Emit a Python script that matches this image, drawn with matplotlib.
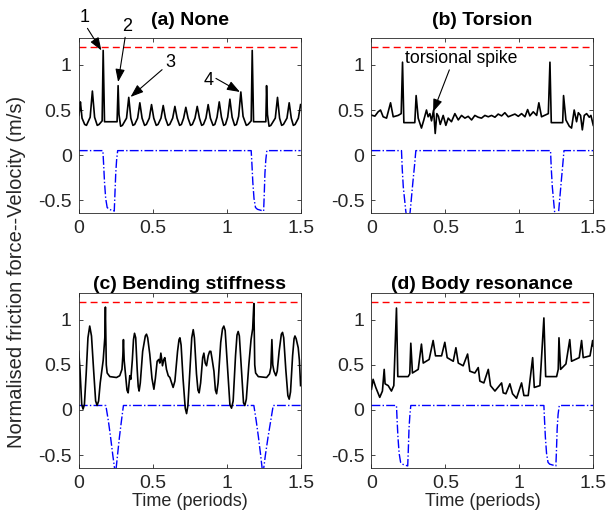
import numpy as np
import matplotlib.pyplot as plt

plt.rcParams['font.family'] = ['Liberation Sans', 'DejaVu Sans']

# friction force traces: (time in periods, normalised force)
force_a = [(0, 0.44), (0.006, 0.5), (0.011, 0.59), (0.022, 0.41), (0.04, 0.34), (0.052, 0.33),
           (0.077, 0.42), (0.092, 0.71), (0.107, 0.42), (0.125, 0.33), (0.137, 0.34), (0.158, 0.38),
           (0.165, 1.16), (0.174, 0.37), (0.259, 0.37), (0.266, 0.77), (0.272, 0.45), (0.283, 0.32),
           (0.295, 0.33), (0.323, 0.41), (0.338, 0.64), (0.352, 0.41), (0.366, 0.33), (0.378, 0.34),
           (0.398, 0.41), (0.413, 0.58), (0.428, 0.41), (0.445, 0.33), (0.457, 0.34), (0.477, 0.41),
           (0.492, 0.56), (0.507, 0.41), (0.524, 0.33), (0.536, 0.34), (0.556, 0.41), (0.571, 0.55),
           (0.586, 0.41), (0.603, 0.33), (0.615, 0.34), (0.635, 0.41), (0.65, 0.54), (0.665, 0.41),
           (0.682, 0.33), (0.694, 0.34), (0.709, 0.41), (0.724, 0.53), (0.739, 0.41), (0.756, 0.33),
           (0.768, 0.34), (0.786, 0.41), (0.801, 0.54), (0.816, 0.41), (0.831, 0.33), (0.843, 0.34),
           (0.86, 0.41), (0.875, 0.56), (0.89, 0.41), (0.908, 0.33), (0.92, 0.34), (0.935, 0.42),
           (0.95, 0.59), (0.965, 0.42), (0.98, 0.33), (0.992, 0.34), (1.007, 0.42), (1.022, 0.62),
           (1.037, 0.42), (1.054, 0.33), (1.066, 0.34), (1.081, 0.43), (1.096, 0.70), (1.111, 0.43),
           (1.133, 0.33), (1.145, 0.34), (1.166, 0.38), (1.173, 1.16), (1.182, 0.37), (1.265, 0.37),
           (1.27, 0.77), (1.276, 0.45), (1.287, 0.32), (1.299, 0.33), (1.329, 0.41), (1.344, 0.64),
           (1.358, 0.41), (1.372, 0.33), (1.384, 0.34), (1.408, 0.41), (1.423, 0.58), (1.437, 0.41),
           (1.451, 0.33), (1.463, 0.34), (1.485, 0.41), (1.5, 0.56)]

force_b = [(0, 0.443), (0.023, 0.432), (0.045, 0.48), (0.061, 0.50), (0.079, 0.425), (0.102, 0.41),
           (0.129, 0.58), (0.147, 0.425), (0.18, 0.44), (0.201, 0.46), (0.21, 1.03), (0.219, 0.36),
           (0.293, 0.36), (0.302, 0.66), (0.316, 0.41), (0.338, 0.30), (0.354, 0.39), (0.372, 0.50),
           (0.383, 0.425), (0.395, 0.46), (0.406, 0.38), (0.42, 0.50), (0.431, 0.24), (0.442, 0.46),
           (0.453, 0.43), (0.465, 0.34), (0.485, 0.44), (0.503, 0.33), (0.519, 0.41), (0.541, 0.37),
           (0.564, 0.46), (0.587, 0.39), (0.609, 0.44), (0.632, 0.41), (0.654, 0.43), (0.677, 0.39),
           (0.699, 0.44), (0.722, 0.42), (0.744, 0.41), (0.767, 0.44), (0.79, 0.425), (0.812, 0.44),
           (0.835, 0.42), (0.857, 0.455), (0.88, 0.435), (0.902, 0.47), (0.925, 0.425), (0.947, 0.44),
           (0.97, 0.455), (0.993, 0.43), (1.015, 0.46), (1.038, 0.425), (1.056, 0.505), (1.071, 0.435),
           (1.094, 0.48), (1.117, 0.44), (1.132, 0.58), (1.15, 0.425), (1.196, 0.46), (1.207, 1.03),
           (1.216, 0.36), (1.293, 0.36), (1.299, 0.66), (1.315, 0.39), (1.338, 0.32), (1.353, 0.30),
           (1.371, 0.50), (1.387, 0.37), (1.399, 0.47), (1.414, 0.44), (1.426, 0.28), (1.439, 0.44),
           (1.455, 0.46), (1.473, 0.42), (1.484, 0.44), (1.5, 0.33)]

force_c = [(0, 0.65), (0.008, 0.45), (0.02, 0.06), (0.029, 0.01), (0.038, 0.06), (0.05, 0.4),
           (0.062, 0.80), (0.074, 0.93), (0.086, 0.82), (0.1, 0.45), (0.114, 0.1), (0.124, 0.05),
           (0.134, 0.1), (0.145, 0.3), (0.165, 0.55), (0.176, 0.8), (0.18, 1.14), (0.186, 0.5),
           (0.192, 0.41), (0.21, 0.37), (0.255, 0.36), (0.277, 0.38), (0.292, 0.45), (0.298, 0.6),
           (0.302, 0.78), (0.307, 0.55), (0.318, 0.36), (0.326, 0.22), (0.334, 0.19), (0.34, 0.3),
           (0.345, 0.38), (0.352, 0.34), (0.362, 0.55), (0.37, 0.78), (0.377, 0.85), (0.385, 0.8),
           (0.395, 0.45), (0.402, 0.26), (0.408, 0.21), (0.416, 0.3), (0.432, 0.65), (0.45, 0.82),
           (0.458, 0.84), (0.466, 0.8), (0.48, 0.62), (0.495, 0.35), (0.508, 0.23), (0.518, 0.35),
           (0.53, 0.54), (0.541, 0.56), (0.548, 0.52), (0.555, 0.63), (0.562, 0.55), (0.566, 0.49),
           (0.575, 0.56), (0.582, 0.58), (0.593, 0.45), (0.605, 0.38), (0.616, 0.36), (0.628, 0.3),
           (0.638, 0.25), (0.65, 0.32), (0.668, 0.65), (0.678, 0.78), (0.684, 0.80), (0.692, 0.72),
           (0.705, 0.35), (0.72, 0.02), (0.729, -0.04), (0.738, 0.05), (0.75, 0.4), (0.764, 0.8),
           (0.774, 0.89), (0.782, 0.8), (0.796, 0.4), (0.806, 0.22), (0.814, 0.19), (0.824, 0.3),
           (0.838, 0.58), (0.846, 0.63), (0.855, 0.52), (0.864, 0.49), (0.875, 0.6), (0.885, 0.65),
           (0.893, 0.65), (0.903, 0.55), (0.914, 0.43), (0.924, 0.22), (0.932, 0.18), (0.942, 0.3),
           (0.96, 0.75), (0.972, 0.9), (0.981, 0.93), (0.99, 0.88), (1.005, 0.5), (1.022, 0.06),
           (1.033, 0.02), (1.044, 0.1), (1.06, 0.6), (1.07, 0.83), (1.078, 0.87), (1.086, 0.82),
           (1.1, 0.45), (1.114, 0.08), (1.123, 0.05), (1.133, 0.12), (1.15, 0.5), (1.165, 0.78),
           (1.176, 0.9), (1.184, 1.18), (1.19, 0.5), (1.196, 0.41), (1.214, 0.37), (1.27, 0.36),
           (1.29, 0.40), (1.299, 0.47), (1.306, 0.78), (1.312, 0.5), (1.32, 0.43), (1.333, 0.38),
           (1.342, 0.43), (1.355, 0.65), (1.37, 0.84), (1.378, 0.86), (1.386, 0.8), (1.4, 0.45),
           (1.414, 0.16), (1.423, 0.12), (1.432, 0.2), (1.446, 0.6), (1.456, 0.79), (1.462, 0.82),
           (1.47, 0.79), (1.484, 0.69), (1.492, 0.55), (1.5, 0.27)]

force_d = [(0, 0.23), (0.011, 0.34), (0.029, 0.25), (0.056, 0.14), (0.074, 0.21), (0.086, 0.45),
           (0.092, 0.29), (0.113, 0.27), (0.135, 0.21), (0.151, 0.27), (0.169, 1.13), (0.178, 0.37),
           (0.248, 0.37), (0.259, 0.40), (0.266, 0.74), (0.277, 0.41), (0.316, 0.45), (0.338, 0.73),
           (0.35, 0.52), (0.39, 0.56), (0.417, 0.77), (0.433, 0.60), (0.474, 0.60), (0.496, 0.75),
           (0.512, 0.58), (0.553, 0.54), (0.571, 0.69), (0.587, 0.52), (0.62, 0.49), (0.65, 0.62),
           (0.665, 0.43), (0.699, 0.41), (0.722, 0.47), (0.733, 0.32), (0.76, 0.30), (0.79, 0.45),
           (0.805, 0.27), (0.835, 0.21), (0.88, 0.30), (0.891, 0.19), (0.909, 0.18), (0.936, 0.29),
           (0.954, 0.18), (0.981, 0.13), (1.015, 0.30), (1.031, 0.16), (1.06, 0.16), (1.09, 0.58),
           (1.101, 0.25), (1.139, 0.27), (1.166, 1.02), (1.178, 0.37), (1.252, 0.37), (1.263, 0.45),
           (1.268, 0.80), (1.279, 0.45), (1.315, 0.51), (1.341, 0.78), (1.353, 0.54), (1.405, 0.58),
           (1.421, 0.77), (1.432, 0.58), (1.478, 0.60), (1.496, 0.77), (1.5, 0.71)]

# bow velocity traces: (time in periods, velocity)
vel_a = [(0, 0.05), (0.163, 0.05), (0.168, -0.1), (0.174, -0.3), (0.182, -0.48), (0.192, -0.58),
         (0.205, -0.6), (0.24, -0.62), (0.244, -0.45), (0.25, -0.2), (0.256, -0.05), (0.263, 0.05),
         (1.166, 0.05), (1.171, -0.1), (1.177, -0.3), (1.185, -0.48), (1.195, -0.58), (1.208, -0.6),
         (1.25, -0.62), (1.254, -0.45), (1.259, -0.2), (1.265, -0.05), (1.272, 0.05), (1.5, 0.05)]

vel_b = [(0, 0.05), (0.203, 0.05), (0.208, -0.15), (0.215, -0.35), (0.232, -0.62), (0.248, -0.8),
         (0.262, -0.62), (0.28, -0.3), (0.292, -0.1), (0.30, 0.05), (1.211, 0.05), (1.216, -0.15),
         (1.223, -0.35), (1.238, -0.62), (1.252, -0.8), (1.266, -0.62), (1.283, -0.3), (1.294, -0.1),
         (1.302, 0.05), (1.5, 0.05)]

vel_c = [(0, 0.05), (0.183, 0.05), (0.2, -0.12), (0.215, -0.3), (0.23, -0.5), (0.248, -0.72),
         (0.262, -0.5), (0.275, -0.3), (0.29, -0.1), (0.302, 0.05), (1.184, 0.05), (1.2, -0.12),
         (1.215, -0.3), (1.23, -0.5), (1.245, -0.72), (1.262, -0.5), (1.28, -0.3), (1.3, -0.1),
         (1.315, 0.05), (1.5, 0.05)]

vel_d = [(0, 0.05), (0.169, 0.05), (0.173, -0.1), (0.179, -0.3), (0.187, -0.48), (0.197, -0.58),
         (0.208, -0.6), (0.245, -0.62), (0.249, -0.45), (0.254, -0.2), (0.26, -0.05), (0.266, 0.05),
         (1.166, 0.05), (1.17, -0.1), (1.176, -0.3), (1.184, -0.48), (1.194, -0.58), (1.205, -0.6),
         (1.247, -0.62), (1.251, -0.45), (1.256, -0.2), (1.262, -0.05), (1.27, 0.05), (1.5, 0.05)]

limit = 1.2
titles = ['(a) None', '(b) Torsion', '(c) Bending stiffness', '(d) Body resonance']
forces = [force_a, force_b, force_c, force_d]
velocities = [vel_a, vel_b, vel_c, vel_d]
yticks = [-0.5, 0, 0.5, 1]
ytick_labels = ['-0.5', '0', '0.5', '1']
xticks = [0, 0.5, 1, 1.5]
xtick_labels = ['0', '0.5', '1', '1.5']

fig = plt.figure(figsize=(6.06, 5.18), dpi=100)
boxes = [[0.130, 0.589, 0.366, 0.338], [0.613, 0.589, 0.366, 0.338],
         [0.130, 0.097, 0.366, 0.338], [0.613, 0.097, 0.366, 0.338]]
axes = []
for i in range(4):
    ax = fig.add_axes(boxes[i])
    axes.append(ax)
    tv, v = np.array(velocities[i]).T
    tf, f = np.array(forces[i]).T
    ax.plot(tv, v, color='b', linestyle='-.', lw=1.0)
    ax.axhline(limit, color='r', linestyle='--', lw=1.0, dashes=(5, 3))
    ax.plot(tf, f, color='k', lw=1.2)
    ax.set_xlim(0, 1.5)
    ax.set_ylim(-0.64, 1.3)
    ax.set_xticks(xticks)
    ax.set_xticklabels(xtick_labels)
    ax.set_yticks(yticks)
    ax.set_yticklabels(ytick_labels)
    ax.tick_params(direction='in', top=True, right=True, labelsize=14, colors='0.15',
                   length=3, width=0.6, pad=5)
    for s in ax.spines.values():
        s.set_color('0.15')
        s.set_linewidth(0.6)
    ax.set_title(titles[i], fontsize=14, fontweight='bold', pad=9 if i < 2 else 3)
    if i >= 2:
        ax.set_xlabel('Time (periods)', fontsize=13, color='0.15', labelpad=1)

arrow = dict(arrowstyle='-|>,head_length=0.6,head_width=0.22', color='k', lw=0.8,
             shrinkA=0, shrinkB=0)
ax = axes[0]
ax.annotate('1', xy=(0.153, 1.16), xytext=(0.04, 1.53), fontsize=13, ha='center',
            va='center', arrowprops=dict(arrow, relpos=(0.6, 0)))
ax.annotate('2', xy=(0.266, 0.81), xytext=(0.33, 1.43), fontsize=13, ha='center',
            va='center', arrowprops=dict(arrow, relpos=(0.3, 0)))
ax.annotate('3', xy=(0.35, 0.645), xytext=(0.616, 1.03), fontsize=13, ha='center',
            va='center', arrowprops=dict(arrow, relpos=(0, 0.2)))
ax.annotate('4', xy=(1.09, 0.70), xytext=(0.875, 0.83), fontsize=13, ha='center',
            va='center', arrowprops=dict(arrow, relpos=(1, 0.7)))
axes[1].annotate('torsional spike', xy=(0.417, 0.48), xytext=(0.61, 1.07), fontsize=12.7,
                 ha='center', va='center', arrowprops=dict(arrow, relpos=(0.4, 0)))

fig.text(0.028, 0.475, 'Normalised friction force--Velocity (m/s)', rotation=90,
         ha='center', va='center', fontsize=14.5, color='0.15')

fig.savefig('out.png', dpi=100)
